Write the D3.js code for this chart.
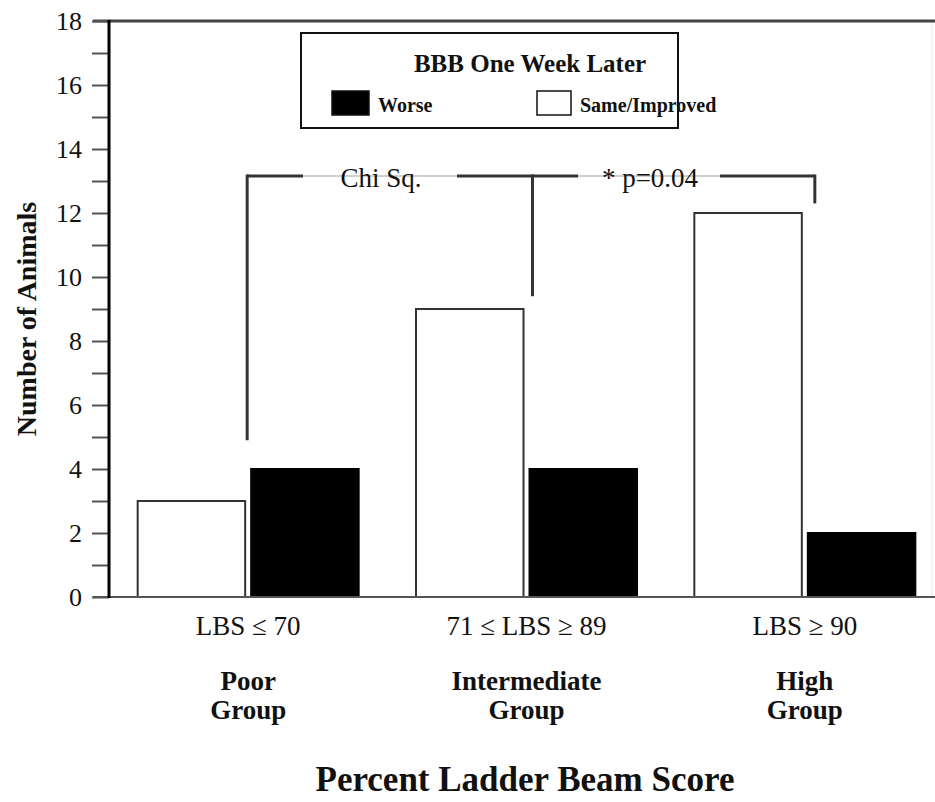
<!DOCTYPE html>
<html>
<head>
<meta charset="utf-8">
<script src="https://cdn.jsdelivr.net/npm/d3@7"></script>
<style>
  html, body { margin: 0; padding: 0; background: #fff; }
  svg { display: block; }
  text { font-family: "Liberation Serif", "Times New Roman", serif; fill: #111; }
</style>
</head>
<body>
<svg id="chart" width="935" height="802"></svg>
<script>
// ---- data ----
const groups = ["Poor", "Intermediate", "High"];
const rangeLabels = ["LBS \u2264 70", "71 \u2264 LBS \u2265 89", "LBS \u2265 90"];
const groupNames = [["Poor", "Group"], ["Intermediate", "Group"], ["High", "Group"]];
const series = ["Same/Improved", "Worse"];
const sameImproved = [3, 9, 12];
const worse = [4, 4, 2];
const yTicks = [0, 2, 4, 6, 8, 10, 12, 14, 16, 18];
const yMinorTicks = d3.range(0, 19);
const legendTitle = "BBB One Week Later";
const statLabels = ["Chi Sq.", "* p=0.04"];

const values = { "Same/Improved": sameImproved, "Worse": worse };
const fills = { "Same/Improved": "#fff", "Worse": "#000" };

const svg = d3.select("#chart");
const axisX = 109, right = 944;
const y = d3.scaleLinear().domain([0, 18]).range([597, 21]);
const x0 = d3.scaleBand().domain(groups).range([axisX, right]).paddingInner(0.206).paddingOuter(0.103);
const x1 = d3.scaleBand().domain(series).range([0, x0.bandwidth()]).paddingInner(0.053).paddingOuter(0);

// faint right edge
svg.append("line").attr("x1", 932).attr("x2", 932).attr("y1", y(18)).attr("y2", y(0))
  .attr("stroke", "#e4e4e4").attr("stroke-width", 1);

// bars
const data = [];
groups.forEach((g, i) => series.forEach(s => data.push({ g, s, v: values[s][i] })));
svg.append("g").selectAll("rect").data(data).join("rect")
  .attr("x", d => x0(d.g) + x1(d.s))
  .attr("y", d => y(d.v))
  .attr("width", x1.bandwidth())
  .attr("height", d => y(0) - y(d.v))
  .attr("fill", d => fills[d.s])
  .attr("stroke", d => d.s === "Worse" ? "#000" : "#333")
  .attr("stroke-width", 2);

// top frame line and zero baseline
svg.append("line").attr("x1", 93).attr("x2", 935).attr("y1", y(18)).attr("y2", y(18))
  .attr("stroke", "#444").attr("stroke-width", 3);
svg.append("line").attr("x1", 93).attr("x2", 935).attr("y1", y(0)).attr("y2", y(0))
  .attr("stroke", "#555").attr("stroke-width", 2);

// y axis
const yAxis = d3.axisLeft(y).tickValues(yMinorTicks).tickSize(17).tickPadding(10)
  .tickFormat(d => yTicks.includes(d) ? d : "");
const ga = svg.append("g").attr("transform", `translate(${axisX},0)`).call(yAxis)
  .attr("font-size", null).attr("font-family", null);
ga.select(".domain").remove();
ga.selectAll(".tick line").attr("stroke", "#555").attr("stroke-width", 2);
ga.selectAll(".tick text").attr("fill", "#222").attr("dy", "0.34em")
  .style("font-size", "26px")
  .style("font-family", '"Liberation Serif", serif');
svg.append("line").attr("x1", axisX).attr("x2", axisX).attr("y1", y(18) - 1).attr("y2", y(0) + 1)
  .attr("stroke", "#000").attr("stroke-width", 3);

// y title
svg.append("text").attr("transform", `translate(36,319) rotate(-90)`)
  .attr("text-anchor", "middle").attr("font-weight", "bold").attr("font-size", 28)
  .text("Number of Animals");

// category labels
groups.forEach((g, i) => {
  const cx = x0(g) + x0.bandwidth() / 2;
  svg.append("text").attr("x", cx).attr("y", 635).attr("text-anchor", "middle")
    .attr("font-size", 27).text(rangeLabels[i]);
  groupNames[i].forEach((t, j) => {
    svg.append("text").attr("x", cx).attr("y", 690 + j * 29).attr("text-anchor", "middle")
      .attr("font-size", 27).attr("font-weight", "bold").text(t);
  });
});

// x title
svg.append("text").attr("x", 525).attr("y", 791).attr("text-anchor", "middle")
  .attr("font-size", 35).attr("font-weight", "bold").text("Percent Ladder Beam Score");

// legend
const lg = svg.append("g");
lg.append("rect").attr("x", 301).attr("y", 33).attr("width", 377).attr("height", 95)
  .attr("fill", "#fff").attr("stroke", "#111").attr("stroke-width", 2);
lg.append("text").attr("x", 530).attr("y", 72).attr("text-anchor", "middle")
  .attr("font-size", 25).attr("font-weight", "bold").text(legendTitle);
const legItems = [
  { s: "Worse", x: 332, w: 37 },
  { s: "Same/Improved", x: 537, w: 34 }
];
legItems.forEach(it => {
  lg.append("rect").attr("x", it.x).attr("y", 91).attr("width", it.w).attr("height", 24)
    .attr("fill", fills[it.s]).attr("stroke", "#111").attr("stroke-width", 1.5);
  lg.append("text").attr("x", it.x + it.w + 9).attr("y", 112)
    .attr("font-size", 20).attr("font-weight", "bold").text(it.s);
});

// significance bracket
const cx = g => x0(g) + x0.bandwidth() / 2;
const by = 176;
const xl = cx("Poor") - 1, xm = cx("Intermediate") + 6, xr = cx("High") + 10;
const br = svg.append("g");
// light line under text
br.append("line").attr("x1", xl).attr("x2", xr).attr("y1", by).attr("y2", by)
  .attr("stroke", "#d0d0d0").attr("stroke-width", 2);
const dark = [[xl, 303], [457, 578], [720, xr]];
dark.forEach(([a, b]) => br.append("line").attr("x1", a).attr("x2", b).attr("y1", by).attr("y2", by)
  .attr("stroke", "#333").attr("stroke-width", 3));
br.append("line").attr("x1", xl).attr("x2", xl).attr("y1", by - 1.5).attr("y2", y(4.9)).attr("stroke", "#333").attr("stroke-width", 3);
br.append("line").attr("x1", xm).attr("x2", xm).attr("y1", by - 1.5).attr("y2", y(9.4)).attr("stroke", "#333").attr("stroke-width", 3);
br.append("line").attr("x1", xr).attr("x2", xr).attr("y1", by - 1.5).attr("y2", y(12.3)).attr("stroke", "#333").attr("stroke-width", 3);
br.append("text").attr("x", 381).attr("y", 187).attr("text-anchor", "middle").attr("font-size", 27).text(statLabels[0]);
br.append("text").attr("x", 650).attr("y", 187).attr("text-anchor", "middle").attr("font-size", 27).text(statLabels[1]);
</script>
</body>
</html>
